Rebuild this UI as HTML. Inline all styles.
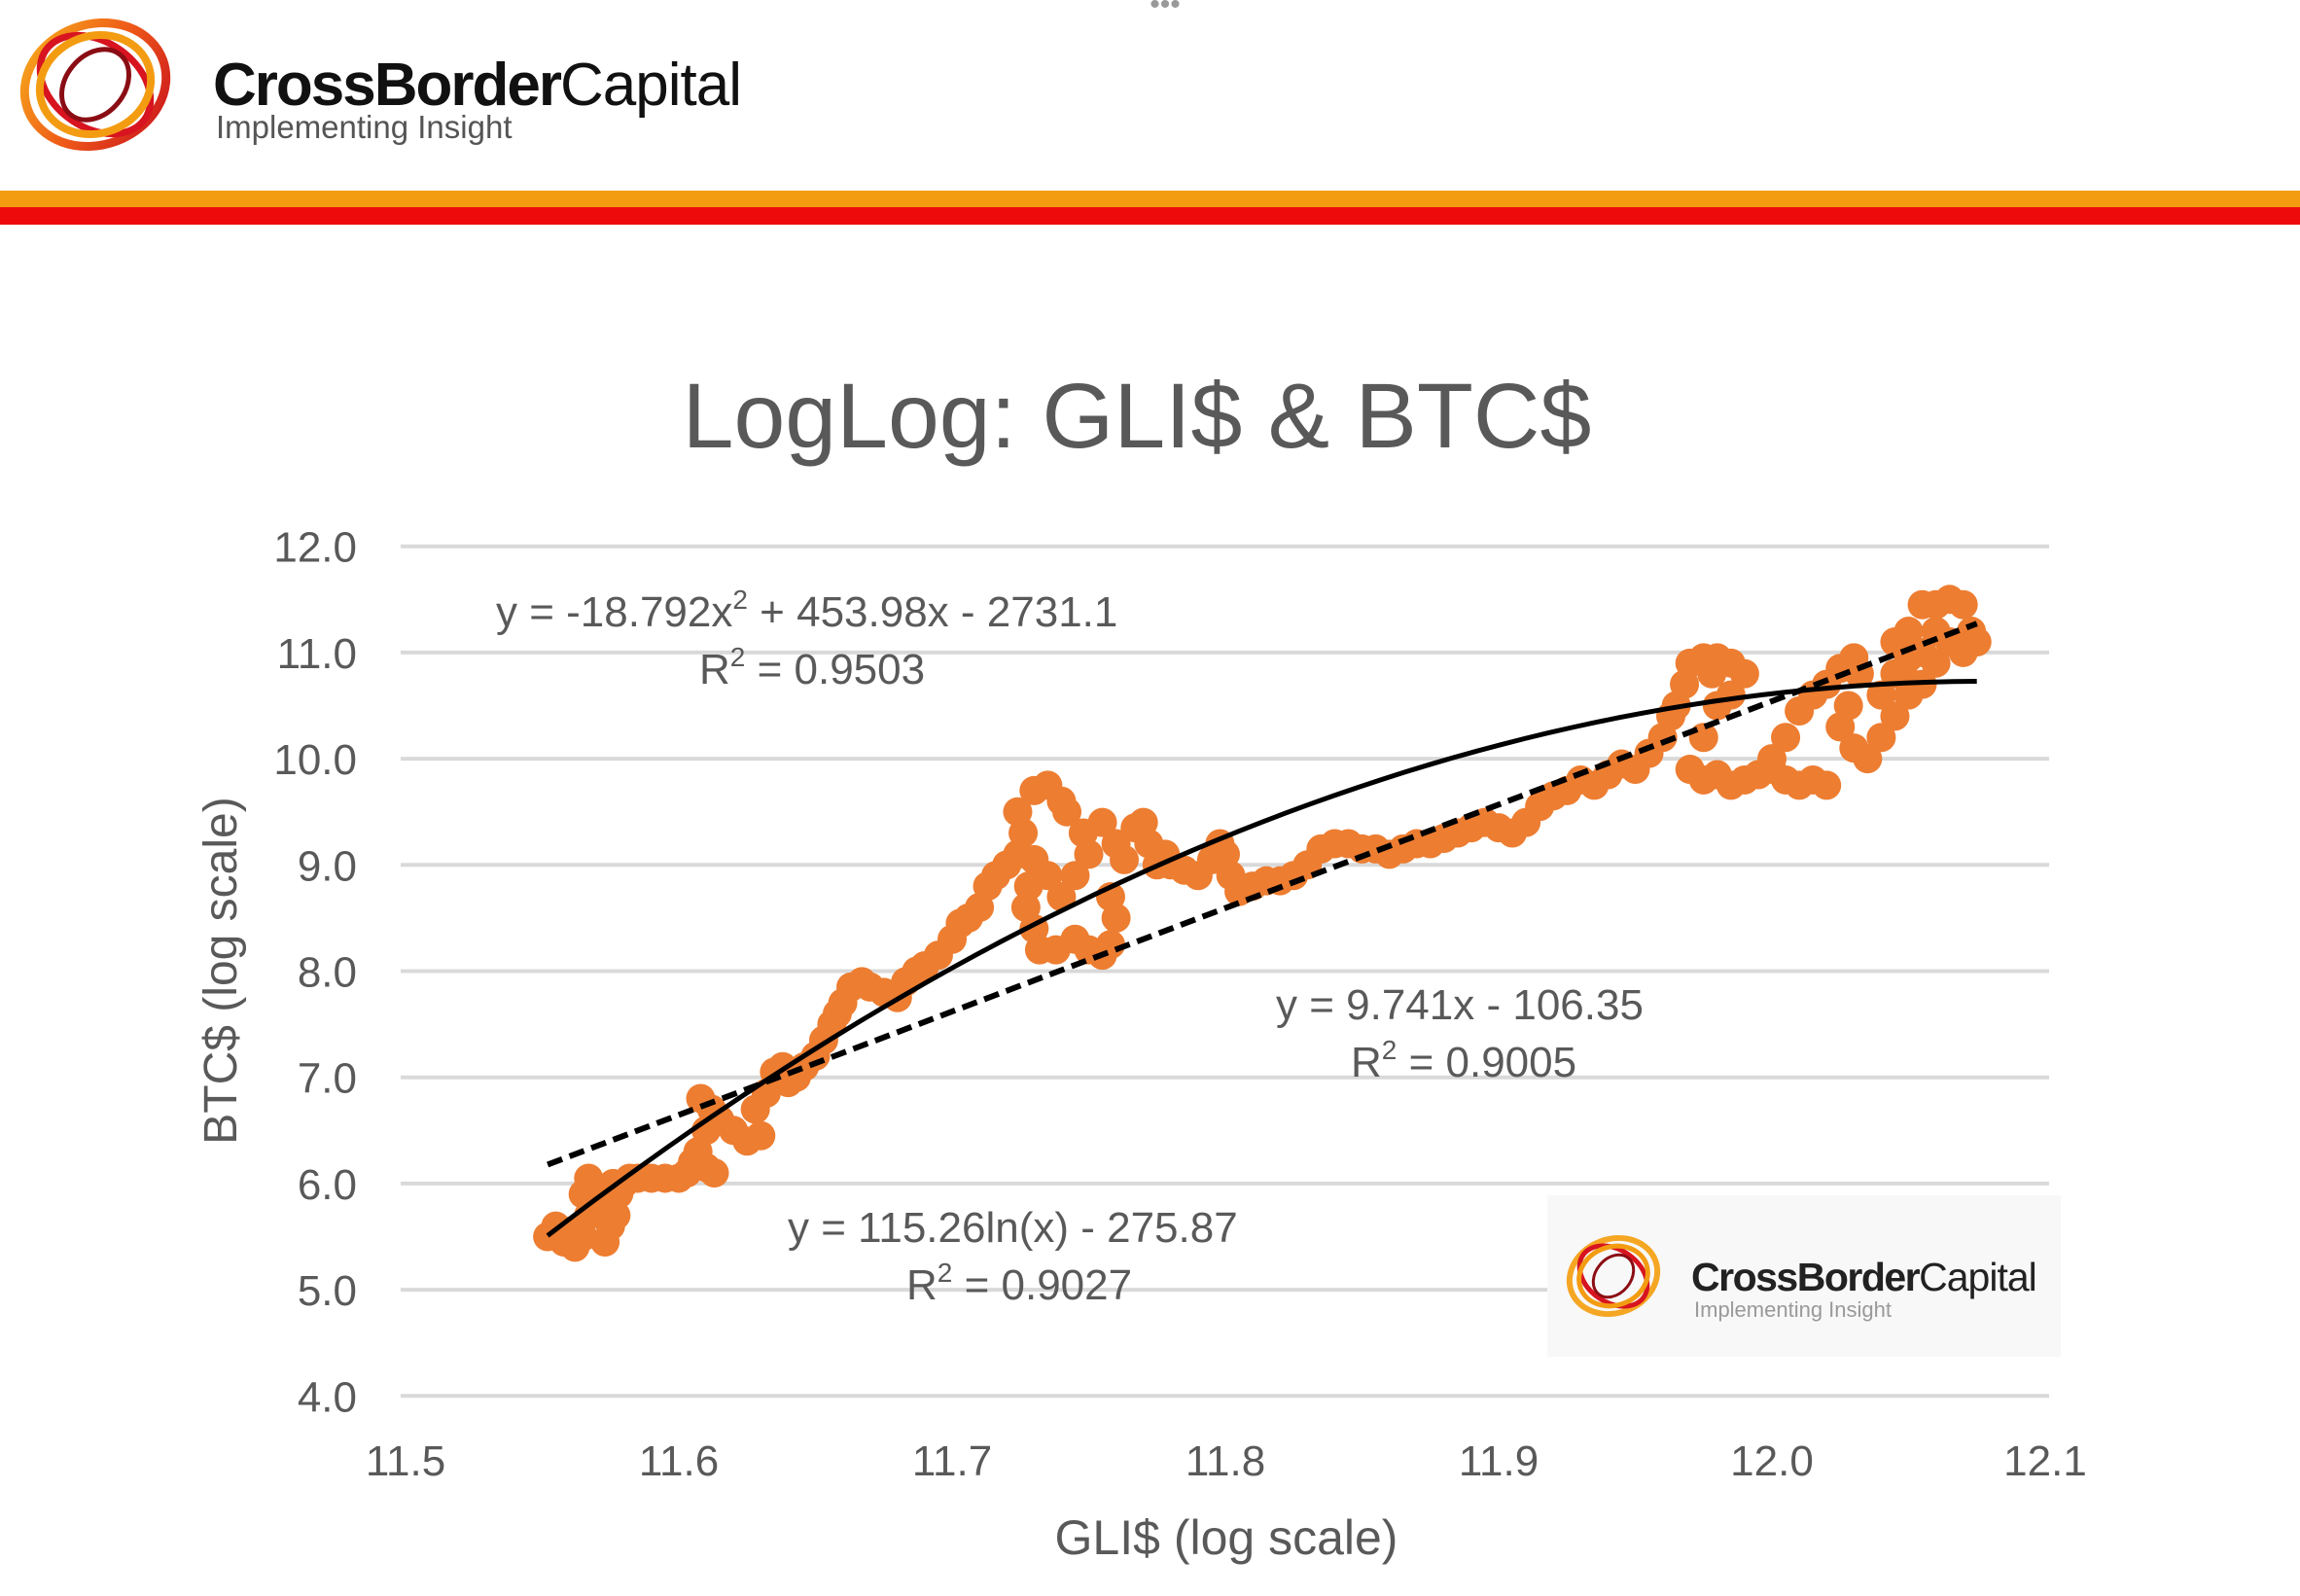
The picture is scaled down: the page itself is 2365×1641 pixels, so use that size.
<!DOCTYPE html>
<html><head><meta charset="utf-8"><style>
html,body{margin:0;padding:0;background:#fff;}
body{width:2365px;height:1641px;overflow:hidden;position:relative;font-family:"Liberation Sans",sans-serif;}
svg{position:absolute;left:0;top:0;}
</style></head><body>
<svg id="chart" width="2365" height="1641" viewBox="0 0 2365 1641">
<defs>
<linearGradient id="lg" x1="0" y1="0" x2="1" y2="1"><stop offset="0" stop-color="#f7b21c"/><stop offset="0.5" stop-color="#ef5a18"/><stop offset="1" stop-color="#c8101e"/></linearGradient>
</defs>
<g>
<g transform="translate(98,87)" fill="none" stroke="url(#lg)">
<ellipse rx="74" ry="62" stroke-width="9" transform="rotate(-20)"/>
<ellipse rx="62" ry="44" stroke-width="7" transform="rotate(35)" stroke="#d7141f"/>
<ellipse rx="50" ry="58" stroke-width="8" transform="rotate(70)" stroke="#f39c12"/>
<ellipse rx="40" ry="30" stroke-width="5" transform="rotate(-50)" stroke="#8b0d14"/>
</g>
<text x="219" y="108" font-size="62" fill="#111"><tspan font-weight="bold" letter-spacing="-2">CrossBorder</tspan><tspan letter-spacing="-1">Capital</tspan></text>
<text x="222" y="142" font-size="33" fill="#555">Implementing Insight</text>
</g>
<text x="1198" y="14" font-size="30" fill="#999" text-anchor="middle">•••</text>
<rect x="0" y="196" width="2365" height="17" fill="#f39c12"/>
<rect x="0" y="213" width="2365" height="18" fill="#ee0a0a"/>
<text x="1169" y="460" font-size="95" fill="#595959" text-anchor="middle">LogLog: GLI$ &amp; BTC$</text>
<g id="grid"></g>
<g id="yticks"></g>
<g id="xticks"></g>
<g>
<rect x="1591" y="1229" width="528" height="166" fill="#f8f8f8"/>
<g transform="translate(1659,1312)" fill="none">
<ellipse rx="46" ry="38" stroke-width="6" transform="rotate(-20)" stroke="#f5a623"/>
<ellipse rx="38" ry="27" stroke-width="5" transform="rotate(35)" stroke="#d7141f"/>
<ellipse rx="30" ry="36" stroke-width="5" transform="rotate(70)" stroke="#f39c12"/>
<ellipse rx="24" ry="18" stroke-width="3" transform="rotate(-50)" stroke="#8b0d14"/>
</g>
<text x="1739" y="1327" font-size="41" fill="#222"><tspan font-weight="bold" letter-spacing="-1.5">CrossBorder</tspan><tspan letter-spacing="-1">Capital</tspan></text>
<text x="1742" y="1354" font-size="22" fill="#999">Implementing Insight</text>
</g>
<g id="points"></g>
<g id="fits"></g>
<g fill="#595959" font-size="44">
<text x="510" y="644">y = -18.792x<tspan font-size="28" dy="-18">2</tspan><tspan dy="18"> + 453.98x - 2731.1</tspan></text>
<text x="719" y="703">R<tspan font-size="28" dy="-18">2</tspan><tspan dy="18"> = 0.9503</tspan></text>
<text x="1312" y="1048">y = 9.741x - 106.35</text>
<text x="1389" y="1107">R<tspan font-size="28" dy="-18">2</tspan><tspan dy="18"> = 0.9005</tspan></text>
<text x="810" y="1277">y = 115.26ln(x) - 275.87</text>
<text x="932" y="1336">R<tspan font-size="28" dy="-18">2</tspan><tspan dy="18"> = 0.9027</tspan></text>
</g>
<text x="1261" y="1598" font-size="50" fill="#595959" text-anchor="middle">GLI$ (log scale)</text>
<text transform="translate(243,998) rotate(-90)" font-size="48" fill="#595959" text-anchor="middle">BTC$ (log scale)</text>
</svg>
<script>
const yTickValues=[4,5,6,7,8,9,10,11,12];
const yTickLabels=["4.0","5.0","6.0","7.0","8.0","9.0","10.0","11.0","12.0"];
const xTickValues=[11.5,11.6,11.7,11.8,11.9,12.0,12.1];
const xTickLabels=["11.5","11.6","11.7","11.8","11.9","12.0","12.1"];
const gliValues=[11.552,11.555,11.558,11.56,11.562,11.565,11.567,11.565,11.567,11.57,11.572,11.575,11.573,11.577,11.578,11.576,11.58,11.582,11.585,11.59,11.595,11.6,11.603,11.605,11.607,11.61,11.613,11.61,11.608,11.612,11.615,11.62,11.625,11.63,11.628,11.632,11.635,11.638,11.64,11.643,11.646,11.65,11.653,11.656,11.658,11.66,11.663,11.667,11.67,11.675,11.68,11.683,11.687,11.69,11.695,11.7,11.703,11.706,11.71,11.713,11.716,11.72,11.724,11.726,11.724,11.73,11.735,11.74,11.742,11.73,11.728,11.727,11.73,11.732,11.738,11.745,11.75,11.755,11.758,11.76,11.758,11.74,11.735,11.745,11.75,11.748,11.755,11.76,11.763,11.767,11.77,11.772,11.775,11.778,11.78,11.785,11.79,11.795,11.798,11.8,11.802,11.805,11.81,11.815,11.82,11.825,11.83,11.835,11.84,11.845,11.85,11.855,11.86,11.865,11.87,11.875,11.88,11.885,11.89,11.895,11.9,11.905,11.91,11.915,11.92,11.925,11.93,11.935,11.94,11.945,11.95,11.955,11.96,11.963,11.965,11.968,11.97,11.975,11.978,11.98,11.985,11.99,11.985,11.98,11.975,11.97,11.975,11.98,11.985,11.99,11.995,12.0,12.005,12.01,12.015,12.02,12.0,12.005,12.01,12.015,12.02,12.025,12.03,12.032,12.028,12.025,12.03,12.035,12.04,12.045,12.04,12.045,12.05,12.055,12.06,12.055,12.05,12.048,12.045,12.05,12.055,12.06,12.065,12.07,12.073,12.075,12.07,12.065,12.06];
const btcValues=[5.5,5.6,5.45,5.55,5.4,5.5,5.7,5.9,6.05,5.95,5.8,5.6,5.45,5.7,5.9,6.0,6.0,6.05,6.05,6.05,6.05,6.05,6.1,6.2,6.3,6.15,6.1,6.5,6.8,6.7,6.6,6.5,6.4,6.45,6.7,6.85,7.05,7.1,6.95,7.0,7.1,7.2,7.35,7.5,7.6,7.7,7.85,7.9,7.85,7.8,7.75,7.9,8.0,8.05,8.15,8.3,8.45,8.5,8.6,8.8,8.9,9.0,9.1,9.3,9.5,9.7,9.75,9.6,9.5,9.05,8.8,8.6,8.4,8.2,8.2,8.3,8.2,8.15,8.25,8.5,8.7,8.7,8.9,8.9,9.1,9.3,9.4,9.2,9.05,9.35,9.4,9.2,9.0,9.1,9.0,8.95,8.9,9.05,9.2,9.1,8.9,8.75,8.8,8.85,8.85,8.9,9.0,9.15,9.2,9.2,9.15,9.15,9.1,9.15,9.2,9.2,9.25,9.3,9.35,9.4,9.35,9.3,9.4,9.55,9.65,9.7,9.8,9.75,9.85,9.95,9.9,10.05,10.2,10.4,10.5,10.7,10.9,10.95,10.8,10.95,10.9,10.8,10.6,10.5,10.2,9.9,9.8,9.85,9.75,9.8,9.85,9.9,9.8,9.75,9.8,9.75,10.0,10.2,10.45,10.6,10.7,10.85,10.95,10.8,10.5,10.3,10.1,10.0,10.2,10.4,10.6,10.8,10.95,11.0,10.9,10.7,10.6,10.8,11.1,11.2,11.45,11.45,11.5,11.45,11.2,11.1,11.0,11.1,11.2];
const quadCoef=[-18.792,453.98,-2731.1];
const linCoef=[9.741,-106.35];
const fitRange=[11.552,12.075];

const NS="http://www.w3.org/2000/svg";
const X0=417,XS=2810,Y0=561.7,YS=109.2;
function sx(v){return X0+(v-11.5)*XS;}
function sy(v){return Y0+(12-v)*YS;}
function mk(t,a,p){const e=document.createElementNS(NS,t);for(const k in a)e.setAttribute(k,a[k]);p.appendChild(e);return e;}
const grid=document.getElementById('grid'),yt=document.getElementById('yticks'),xt=document.getElementById('xticks');
yTickValues.forEach((v,i)=>{
  const l=mk('line',{x1:412,x2:2107,y1:sy(v),y2:sy(v),stroke:'#d9d9d9','stroke-width':4},grid);
  
  
  const t=mk('text',{x:367,y:sy(v)+16,'font-size':44,fill:'#595959','text-anchor':'end'},yt);
  t.textContent=yTickLabels[i];
  
  
});
xTickValues.forEach((v,i)=>{
  const t=mk('text',{x:sx(v),y:1517,'font-size':44,fill:'#595959','text-anchor':'middle'},xt);
  t.textContent=xTickLabels[i];
  
  
});
const pts=document.getElementById('points');
gliValues.forEach((g,i)=>{
  const c=mk('circle',{cx:sx(g),cy:sy(btcValues[i]),r:15,fill:'#ed7d31'},pts);
  
  
});
const fits=document.getElementById('fits');
let dq='',N=60;
for(let k=0;k<=N;k++){const x=fitRange[0]+(fitRange[1]-fitRange[0])*k/N;const y=quadCoef[0]*x*x+quadCoef[1]*x+quadCoef[2];dq+=(k?'L':'M')+sx(x).toFixed(1)+','+sy(y).toFixed(1);}
const q=mk('path',{d:dq,fill:'none',stroke:'#000','stroke-width':5},fits);


const la=linCoef[0]*fitRange[0]+linCoef[1],lb=linCoef[0]*fitRange[1]+linCoef[1];
const ln=mk('line',{x1:sx(fitRange[0]),y1:sy(la),x2:sx(fitRange[1]),y2:sy(lb),stroke:'#000','stroke-width':6,'stroke-dasharray':'16 8'},fits);


</script>
</body></html>
